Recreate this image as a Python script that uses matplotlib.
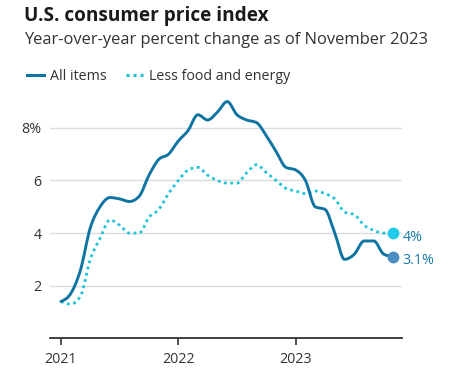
import numpy as np
import matplotlib
matplotlib.use("Agg")
import matplotlib.pyplot as plt
from matplotlib.path import Path
from matplotlib.patches import PathPatch
from matplotlib.lines import Line2D

plt.rcParams['font.family'] = ['Open Sans', 'DejaVu Sans']

# ---- data (monthly, Jan 2021 .. Nov 2023) ----
months = list(range(35))
all_items = [1.4, 1.7, 2.6, 4.2, 5.0, 5.35, 5.3, 5.2, 5.4, 6.2, 6.8, 7.0,
             7.5, 7.9, 8.5, 8.3, 8.6, 9.0, 8.5, 8.3, 8.2, 7.7, 7.1, 6.5,
             6.4, 6.0, 5.0, 4.9, 4.0, 3.0, 3.2, 3.7, 3.7, 3.2, 3.1]
core = [1.4, 1.3, 1.6, 3.0, 3.8, 4.5, 4.3, 4.0, 4.0, 4.6, 4.9, 5.5,
        6.0, 6.4, 6.5, 6.2, 6.0, 5.9, 5.9, 6.3, 6.6, 6.3, 6.0, 5.7,
        5.6, 5.5, 5.6, 5.5, 5.3, 4.8, 4.7, 4.3, 4.1, 4.0, 4.0]
series_names = ["All items", "Less food and energy"]
end_labels = ["3.1%", "4%"]
y_ticks = [2, 4, 6, 8]
y_tick_labels = ["2", "4", "6", "8%"]
x_ticks = [0, 12, 24]
x_tick_labels = ["2021", "2022", "2023"]

C_ALL = "#0f74a2"
C_CORE = "#1ec3d6"
C_ALL_DOT = "#4a8dc2"
C_CORE_DOT = "#1fcbe8"
C_LABEL = "#1a7aa6"


def monotone_path(x, y):
    """Cubic Bezier path like d3.curveMonotoneX through the data points."""
    x = np.asarray(x, float)
    y = np.asarray(y, float)
    n = len(x)
    h = np.diff(x)
    s = np.diff(y) / h
    t = np.zeros(n)
    for i in range(1, n - 1):
        h0, h1, s0, s1 = h[i - 1], h[i], s[i - 1], s[i]
        p = (s0 * h1 + s1 * h0) / (h0 + h1)
        t[i] = (np.sign(s0) + np.sign(s1)) * min(abs(s0), abs(s1), 0.5 * abs(p))
    t[0] = (3 * s[0] - t[1]) / 2
    t[-1] = (3 * s[-1] - t[-2]) / 2
    verts = [(x[0], y[0])]
    codes = [Path.MOVETO]
    for i in range(n - 1):
        dx = h[i] / 3
        verts += [(x[i] + dx, y[i] + dx * t[i]),
                  (x[i + 1] - dx, y[i + 1] - dx * t[i + 1]),
                  (x[i + 1], y[i + 1])]
        codes += [Path.CURVE4] * 3
    return Path(verts, codes)


fig = plt.figure(figsize=(4.76, 3.76), dpi=100)
ax = fig.add_axes([0.105, 0.1003, 0.7395, 0.6505])
ax.set_xlim(-1.12, 34.87)
ax.set_ylim(0, 9.3)

for v in y_ticks:
    ax.axhline(v, color="#dcdcdc", lw=1.0, zorder=1)

ax.add_patch(PathPatch(monotone_path(months, core), fill=False, edgecolor=C_CORE,
                       lw=2.0, linestyle=(0, (1, 1.3)), capstyle="butt", zorder=3))
ax.add_patch(PathPatch(monotone_path(months, all_items), fill=False, edgecolor=C_ALL,
                       lw=2.1, capstyle="round", joinstyle="round", zorder=4))

ax.plot([months[-1]], [core[-1]], "o", ms=7.5, color=C_CORE_DOT, zorder=5, clip_on=False)
ax.plot([months[-1]], [all_items[-1]], "o", ms=7.5, color=C_ALL_DOT, zorder=5, clip_on=False)
ax.text(months[-1] + 0.9, core[-1] - 0.15, end_labels[1], color=C_LABEL, fontsize=10.3,
        va="center", ha="left")
ax.text(months[-1] + 0.9, all_items[-1] - 0.15, end_labels[0], color=C_LABEL, fontsize=10.3,
        va="center", ha="left")

for sp in ["top", "right", "left"]:
    ax.spines[sp].set_visible(False)
ax.spines["bottom"].set_color("#333333")
ax.spines["bottom"].set_linewidth(1.3)

ax.set_yticks(y_ticks)
ax.set_yticklabels(y_tick_labels)
ax.set_xticks(x_ticks)
ax.set_xticklabels(x_tick_labels)
ax.tick_params(axis="y", length=0, pad=6, labelsize=10.3, labelcolor="#333333")
ax.tick_params(axis="x", length=5, width=1.2, color="#333333", pad=5,
               labelsize=10.3, labelcolor="#333333")

fig.text(0.05, 0.958, "U.S. consumer price index", fontsize=13.7, fontweight="bold",
         color="#1a1a1a", va="center", ha="left")
fig.text(0.05, 0.893, "Year-over-year percent change as of November 2023", fontsize=11.9,
         color="#333333", va="center", ha="left")

handles = [Line2D([], [], color=C_ALL, lw=2.2),
           Line2D([], [], color=C_CORE, lw=2.2, linestyle=(0, (1, 1.3)))]
fig.legend(handles, series_names, loc="center left", bbox_to_anchor=(0.029, 0.797),
           ncol=2, frameon=False, fontsize=10.3, handlelength=1.2, handletextpad=0.45,
           columnspacing=1.3, labelcolor="#333333")

fig.savefig("out.png", dpi=100)
